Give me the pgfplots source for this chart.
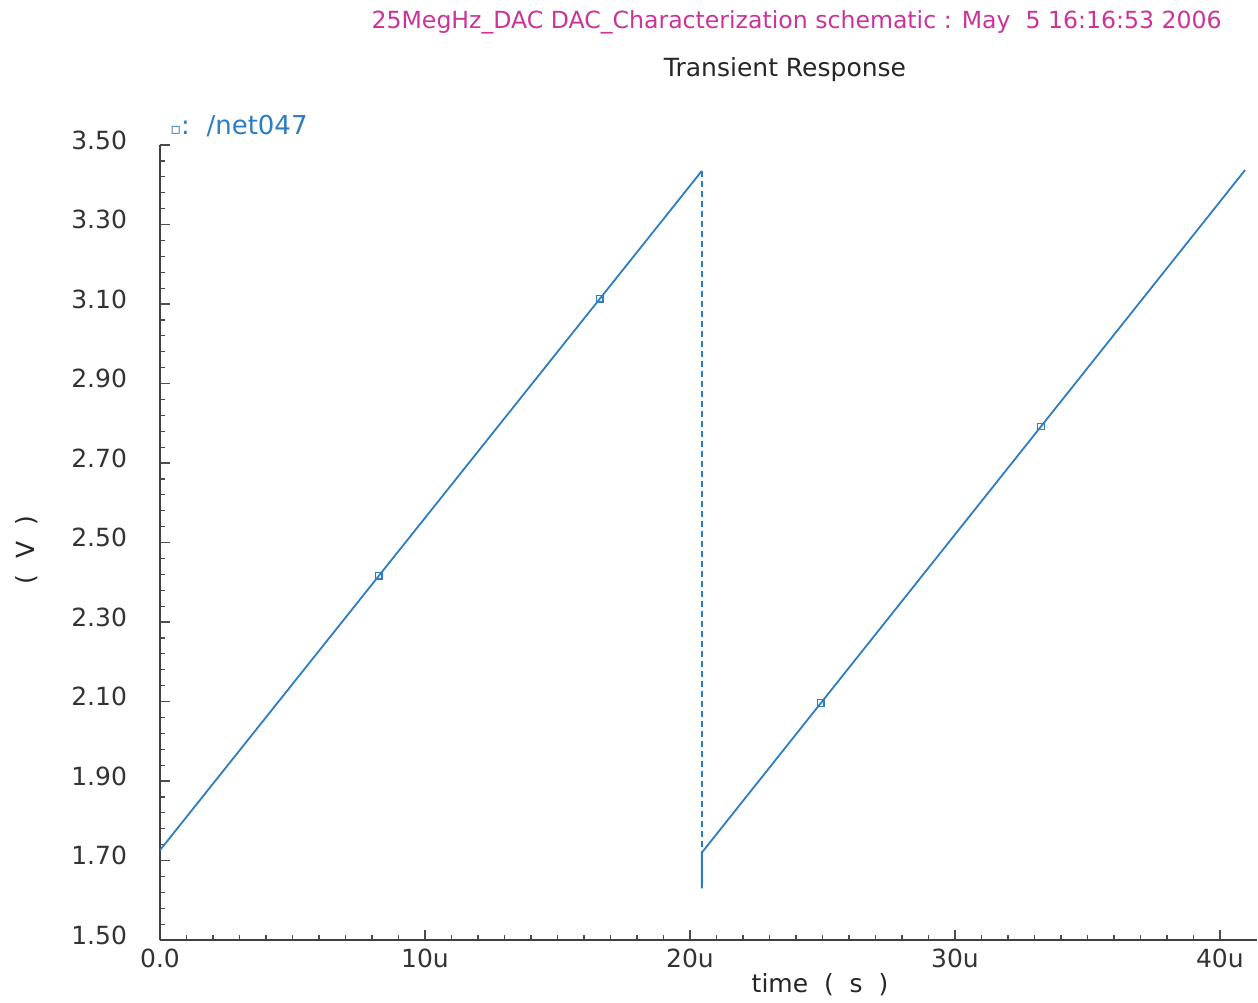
\documentclass[border=0pt]{standalone}
\usepackage{fontspec}
\setmainfont{DejaVu Sans}
\usepackage{pgfplots}
\pgfplotsset{compat=1.18}
\definecolor{wave}{RGB}{45,125,195}
\definecolor{hdr}{RGB}{204,51,153}
\begin{document}
\begin{tikzpicture}[x=1pt,y=1pt]
\useasboundingbox (-80,-31) rectangle (549,470);
\begin{axis}[
  at={(0,0)}, anchor=south west,
  scale only axis, width=548.5pt, height=397.5pt,
  xmin=0, xmax=41.4, ymin=1.5, ymax=3.5,
  axis x line=bottom, axis y line=left,
  axis line style={-, draw=black!75, line width=0.6pt},
  tick align=inside, major tick length=5pt, minor tick length=2.5pt,
  every tick/.style={black!70, line width=0.6pt},
  xtick={0,10,20,30,40},
  xticklabels={0.0,10u,20u,30u,40u},
  minor x tick num=9,
  ytick={1.5,1.7,1.9,2.1,2.3,2.5,2.7,2.9,3.1,3.3,3.5},
  yticklabels={1.50,1.70,1.90,2.10,2.30,2.50,2.70,2.90,3.10,3.30,3.50},
  minor y tick num=4,
  ticklabel style={font=\fontsize{12.5}{14}\selectfont, text=black!80},
  yticklabel style={xshift=-13pt, yshift=2.5pt},
  xticklabel style={yshift=-1pt},
  xlabel={time\ \ (\ \ s\ \ )},
  xlabel style={at={(axis description cs:0.6017,-0.0566)}, anchor=center, font=\fontsize{12.5}{14}\selectfont, text=black!85},
  ylabel={(\ \ V\ \ )},
  ylabel style={at={(axis description cs:-0.1212,0.4906)}, anchor=center, font=\fontsize{12.5}{14}\selectfont, text=black!85},
  clip=false,
]
\addplot[wave, line width=0.9pt] coordinates {(0,1.726) (20.45,3.435)};
\addplot[wave, line width=0.8pt, dash pattern=on 3pt off 2pt] coordinates {(20.45,3.435) (20.45,1.72)};
\addplot[wave, line width=0.9pt] coordinates {(20.45,1.63) (20.45,1.72) (40.95,3.437)};
\addplot[wave, only marks, mark=square, mark size=1.6pt, mark options={line width=0.6pt}] coordinates {(8.26,2.416) (16.6,3.113) (24.94,2.096) (33.25,2.792)};
\end{axis}
\node[anchor=east, text=hdr, font=\fontsize{11.8}{14}\selectfont, inner sep=0pt] at (531,459) {25MegHz\_DAC DAC\_Characterization schematic : May\ \ 5 16:16:53 2006};
\node[anchor=center, font=\fontsize{12.5}{14}\selectfont, inner sep=0pt, text=black!85] at (312.5,435) {Transient Response};
\node[anchor=west, text=wave, font=\fontsize{13}{14}\selectfont, inner sep=0pt] at (5,407) {{\fontsize{8}{8}\selectfont ▫}:\ \ /net047};
\end{tikzpicture}
\end{document}
